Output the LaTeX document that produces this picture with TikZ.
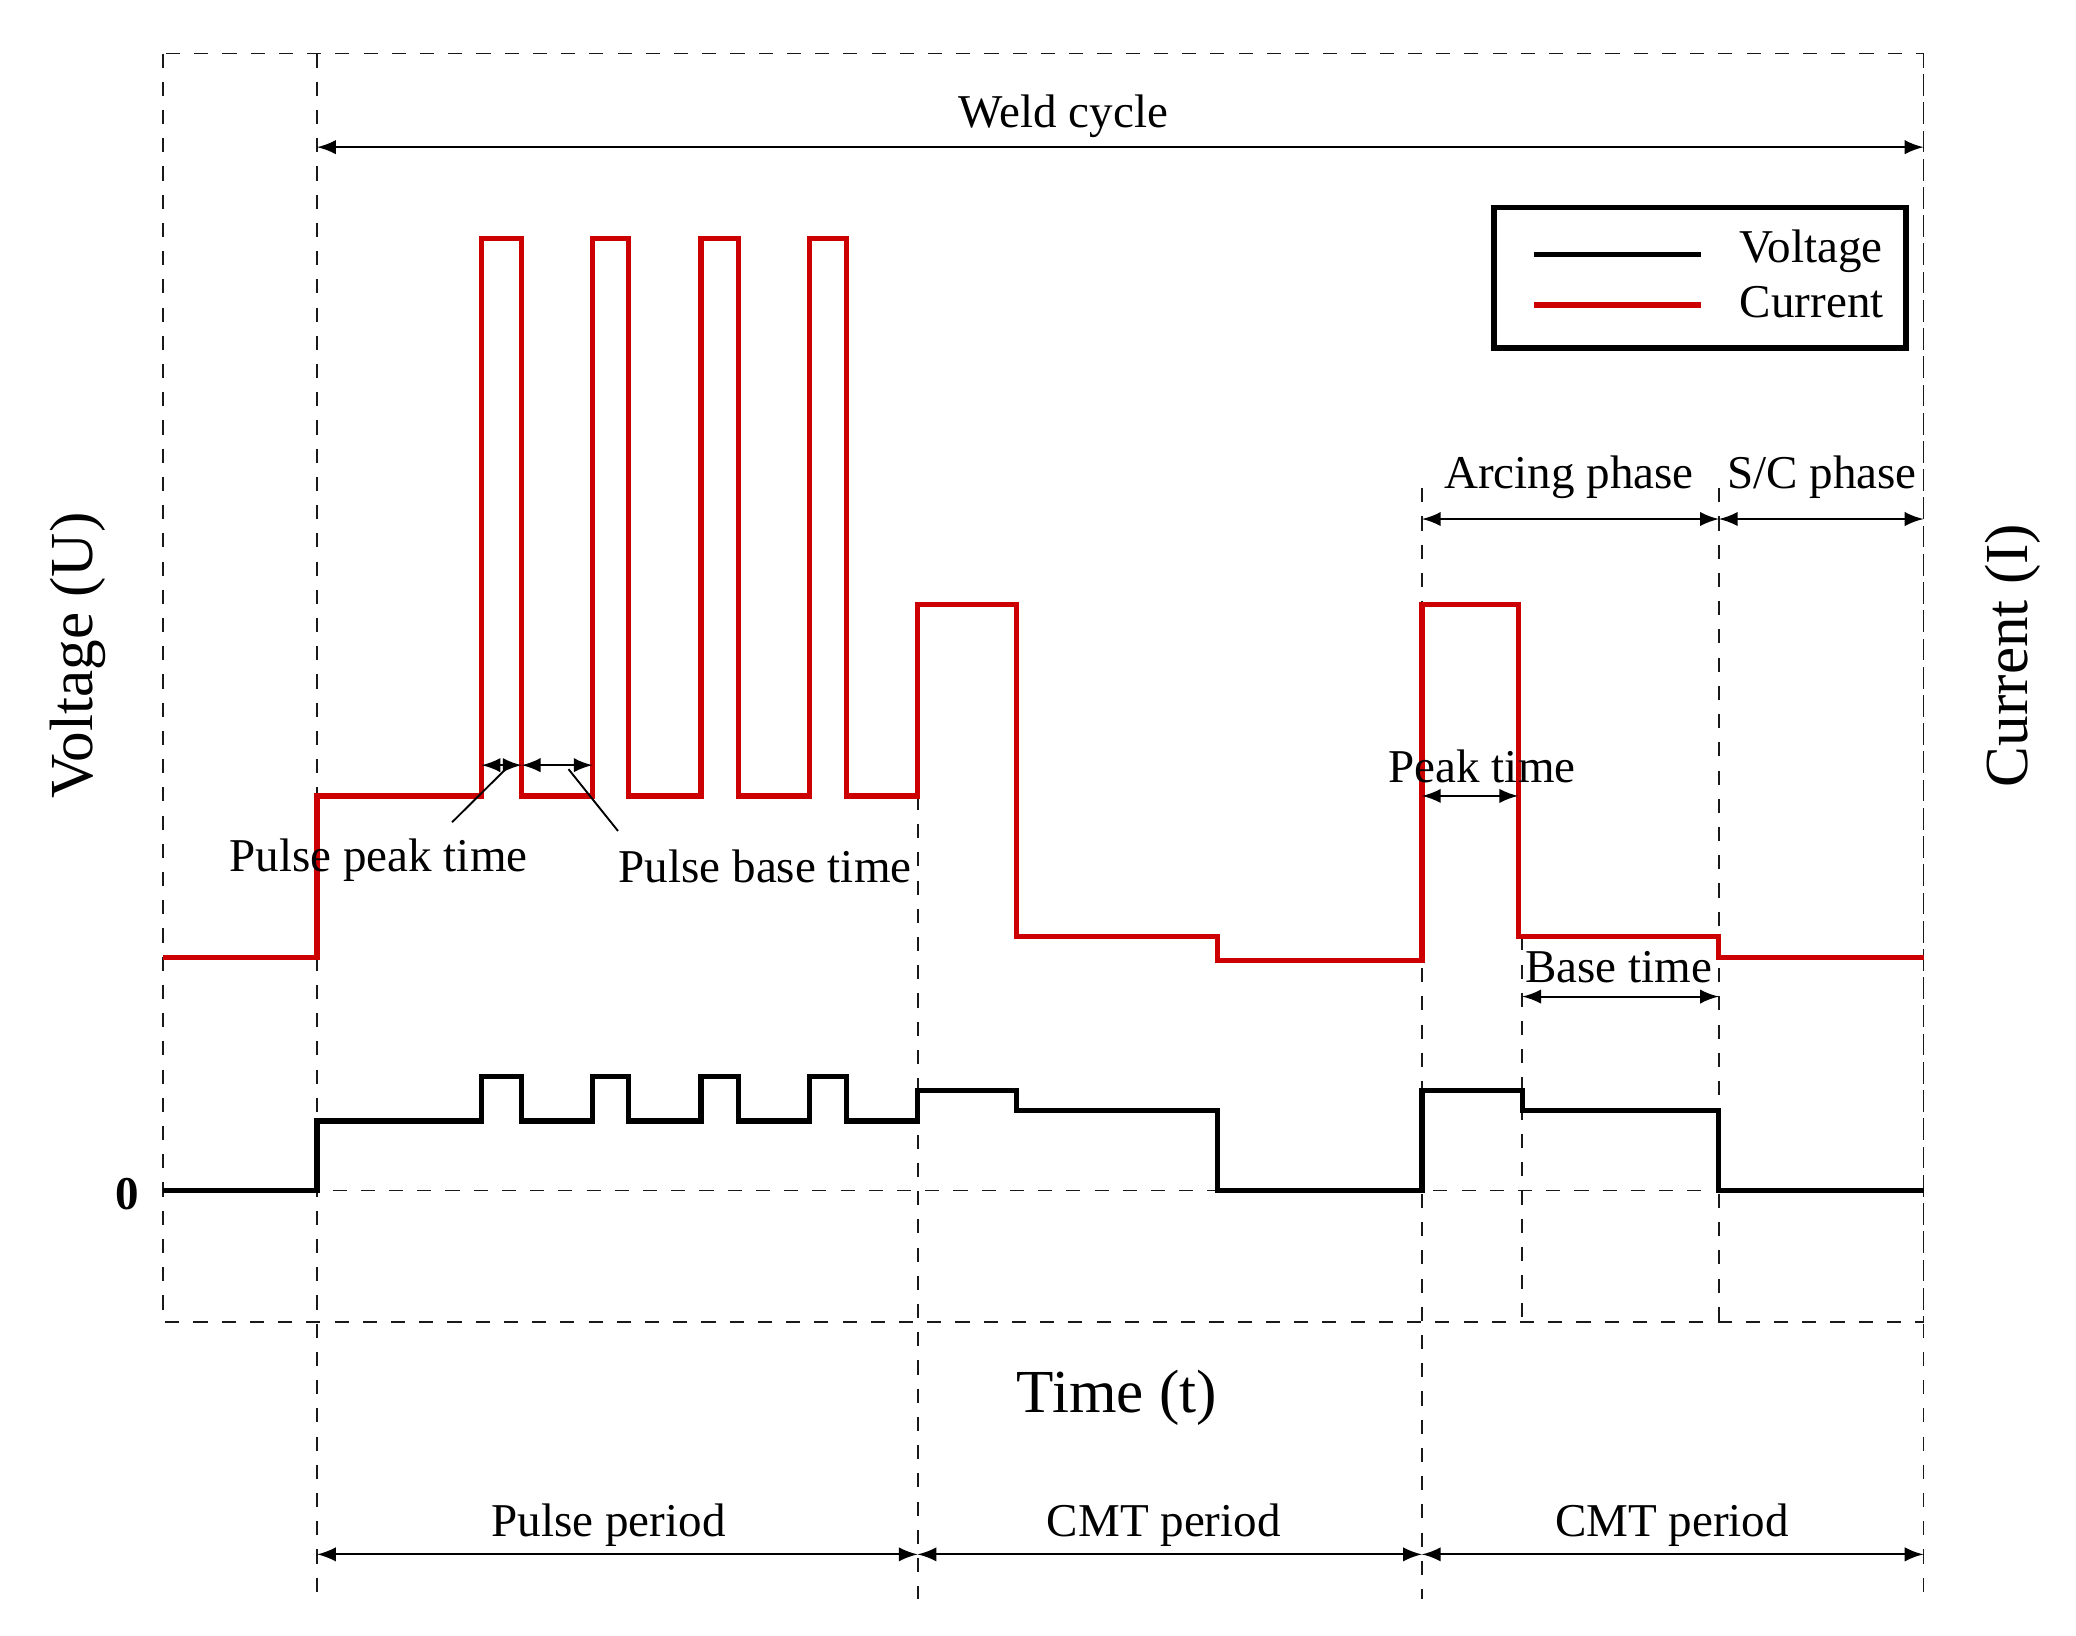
\documentclass[tikz,border=0pt]{standalone}
\usepackage{fontspec}
\setmainfont{Liberation Serif}
\usetikzlibrary{positioning, arrows}
\begin{document}
\begin{tikzpicture}[x=0.01cm, y=-0.01cm, font=\fontsize{10}{12}\selectfont,
    dim/.style={<->, >=latex, thin},
    guide/.style={dashed, thin, gray!20!black},
    curr/.style={red!80!black, line width=1.1pt},
    volt/.style={black, line width=1.1pt}]
    \useasboundingbox (0,0) rectangle (1552,1223);
    % frame and guides
    \draw[guide] (122,40) rectangle (1438,988);
    \draw[guide] (122,890) -- (1438,890);
    \draw[guide] (237,40) -- (237,1195);
    \draw[guide] (686,595) -- (686,1195);
    \draw[guide] (1063,365) -- (1063,1195);
    \draw[guide] (1138,700) -- (1138,988);
    \draw[guide] (1285,365) -- (1285,988);
    \draw[guide] (1438,40) -- (1438,1195);
    % current
    \draw[curr] (122,716) -- (237,716) -- (237,595) -- (360,595) -- (360,178) -- (390,178) -- (390,595)
        -- (443,595) -- (443,178) -- (470,178) -- (470,595) -- (524,595) -- (524,178) -- (552,178) -- (552,595)
        -- (605,595) -- (605,178) -- (633,178) -- (633,595) -- (686,595) -- (686,452) -- (760,452) -- (760,700)
        -- (910,700) -- (910,718) -- (1063,718) -- (1063,452) -- (1135,452) -- (1135,700) -- (1285,700)
        -- (1285,716) -- (1438,716);
    % voltage
    \draw[volt] (122,890) -- (237,890) -- (237,838) -- (360,838) -- (360,805) -- (390,805) -- (390,838)
        -- (443,838) -- (443,805) -- (470,805) -- (470,838) -- (524,838) -- (524,805) -- (552,805) -- (552,838)
        -- (605,838) -- (605,805) -- (633,805) -- (633,838) -- (686,838) -- (686,815) -- (760,815) -- (760,830)
        -- (910,830) -- (910,890) -- (1063,890) -- (1063,815) -- (1138,815) -- (1138,830) -- (1285,830)
        -- (1285,890) -- (1438,890);
    % legend
    \draw[line width=1.2pt] (1117,155) rectangle (1425,260);
    \draw[volt] (1147,190) -- (1272,190);
    \draw[curr] (1147,228) -- (1272,228);
    \node[anchor=west, inner sep=0pt] (lv) at (1300,188) {Voltage};
    \node[anchor=west, inner sep=0pt] (lc) at (1300,226) {Current};
    % dimensions
    \coordinate (wa) at (237,110); \coordinate (wb) at (1438,110);
    \draw[dim] (wa) -- (wb);
    \node (weld) at (795,87) {Weld cycle};
    \coordinate (aa) at (1063,388); \coordinate (ab) at (1285,388); \coordinate (ac) at (1438,388);
    \draw[dim] (aa) -- (ab);
    \draw[dim] (ab) -- (ac);
    \node (arc) at (1173,357) {Arcing phase};
    \node (sc) at (1362,357) {S/C phase};
    \coordinate (pa) at (1063,595); \coordinate (pb) at (1135,595);
    \draw[dim] (pa) -- (pb);
    \node (peak) at (1108,573) {Peak time};
    \coordinate (ba) at (1138,745); \coordinate (bb) at (1285,745);
    \draw[dim] (ba) -- (bb);
    \node (base) at (1210,723) {Base time};
    \coordinate (ppa) at (360,572); \coordinate (ppb) at (390,572); \coordinate (ppc) at (443,572);
    \draw[dim] (ppa) -- (ppb);
    \draw[dim] (ppb) -- (ppc);
    \node (ppeak) at (283,643) {Pulse peak time};
    \node (pbase) at (572,648) {Pulse base time};
    \draw[thin] (ppeak.north) ++(55,0) -- (378,575);
    \draw[thin] (pbase.north) ++(-110,-2) -- (425,575);
    % axes labels
    \node[font=\fontsize{13}{15}\selectfont] (time) at (835,1045) {Time (t)};
    \node[font=\fontsize{13}{15}\selectfont, rotate=90] (vu) at (58,490) {Voltage (U)};
    \node[font=\fontsize{13}{15}\selectfont, rotate=90] (ci) at (1505,490) {Current (I)};
    \node[font=\bfseries] (zero) at (95,893) {0};
    % periods
    \coordinate (t0) at (237,1162); \coordinate (t1) at (686,1162);
    \coordinate (t2) at (1063,1162); \coordinate (t3) at (1438,1162);
    \draw[dim] (t0) -- (t1);
    \draw[dim] (t1) -- (t2);
    \draw[dim] (t2) -- (t3);
    \node (pp) at (455,1140) {Pulse period};
    \node (cmt1) at (870,1140) {CMT period};
    \node (cmt2) at (1250,1140) {CMT period};
\end{tikzpicture}
\end{document}
